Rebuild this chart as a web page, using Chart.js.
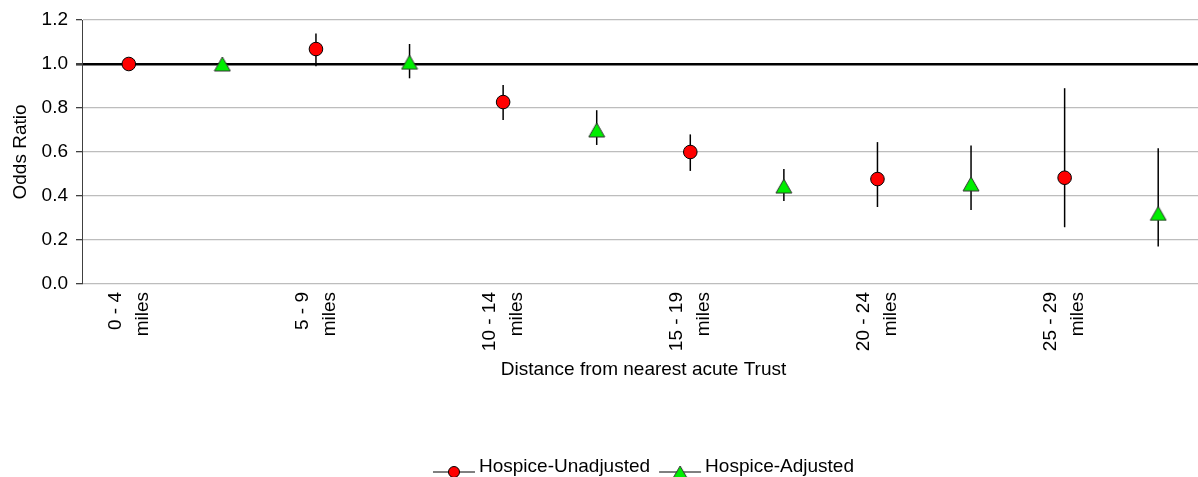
<!DOCTYPE html>
<html>
<head>
<meta charset="utf-8">
<title>Odds Ratio by distance from nearest acute Trust</title>
<script src="https://cdn.jsdelivr.net/npm/chart.js@4/dist/chart.umd.min.js"></script>
<style>
  html, body { margin: 0; padding: 0; background: #fff; overflow: hidden; }
  #wrap { position: relative; width: 1215px; height: 477px; }
</style>
</head>
<body>
<div id="wrap"><canvas id="chart"></canvas></div>
<script>
// Distance bands: each band has an unadjusted slot followed by an adjusted slot
const categories = [
  ['0 - 4', 'miles'], '', ['5 - 9', 'miles'], '', ['10 - 14', 'miles'], '',
  ['15 - 19', 'miles'], '', ['20 - 24', 'miles'], '', ['25 - 29', 'miles'], ''
];

// Hospice-Unadjusted odds ratios with 95% confidence limits
const unadjusted     = [1.00, null, 1.068, null, 0.827, null, 0.600, null, 0.477, null, 0.483, null];
const unadjustedLow  = [null, null, 0.990, null, 0.745, null, 0.514, null, 0.350, null, 0.258, null];
const unadjustedHigh = [null, null, 1.139, null, 0.905, null, 0.680, null, 0.645, null, 0.890, null];

// Hospice-Adjusted odds ratios with 95% confidence limits
const adjusted     = [null, 1.00, null, 1.008, null, 0.700, null, 0.445, null, 0.455, null, 0.321];
const adjustedLow  = [null, null, null, 0.935, null, 0.632, null, 0.377, null, 0.336, null, 0.170];
const adjustedHigh = [null, null, null, 1.091, null, 0.790, null, 0.523, null, 0.629, null, 0.617];

const yMin = 0, yMax = 1.2, yStep = 0.2;
const referenceLine = 1.0;

const FONT = 'Liberation Sans, Arial, sans-serif';
const FONT_SIZE = 19;

// Triangle marker as an image so its bounding box is centred on the value
function triangleMarker(w, h, fill, stroke) {
  const c = document.createElement('canvas');
  c.width = w + 2;
  c.height = h + 2;
  const g = c.getContext('2d');
  g.beginPath();
  g.moveTo(1 + w / 2, 1);
  g.lineTo(1 + w, 1 + h);
  g.lineTo(1, 1 + h);
  g.closePath();
  g.fillStyle = fill;
  g.fill();
  g.strokeStyle = stroke;
  g.lineWidth = 1;
  g.stroke();
  return c;
}
const greenTriangle = triangleMarker(16, 14, '#00ee00', '#333333');
const greenTriangleSmall = triangleMarker(14, 12, '#00ee00', '#333333');

// Vertical confidence-interval whiskers, drawn beneath the markers
const errorBars = {
  id: 'errorBars',
  beforeDatasetsDraw(chart) {
    const { ctx, scales: { x, y } } = chart;
    const ranges = [[unadjustedLow, unadjustedHigh], [adjustedLow, adjustedHigh]];
    ctx.save();
    ctx.strokeStyle = '#000';
    ctx.lineWidth = 1.5;
    ranges.forEach(([lo, hi]) => {
      lo.forEach((l, i) => {
        const h = hi[i];
        if (l == null || h == null) return;
        const px = x.getPixelForValue(i);
        ctx.beginPath();
        ctx.moveTo(px, y.getPixelForValue(l));
        ctx.lineTo(px, y.getPixelForValue(h));
        ctx.stroke();
      });
    });
    ctx.restore();
  }
};

// Legend entries drawn as line + marker samples, centred under the plot
const lineLegend = {
  id: 'lineLegend',
  afterDraw(chart) {
    const { ctx, chartArea } = chart;
    const sample = 42, gapText = 4, gapItem = 9;
    const yLine = 472, yText = 467;
    ctx.save();
    ctx.font = FONT_SIZE + 'px ' + FONT;
    const items = chart.data.datasets.map(ds => ({ ds, w: ctx.measureText(ds.label).width }));
    const total = items.reduce((s, it) => s + sample + gapText + it.w, 0) + gapItem * (items.length - 1);
    let xPos = (chartArea.left + chartArea.right) / 2 - total / 2;
    items.forEach(({ ds, w }) => {
      ctx.strokeStyle = '#000';
      ctx.lineWidth = 1;
      ctx.beginPath();
      ctx.moveTo(xPos, yLine);
      ctx.lineTo(xPos + sample, yLine);
      ctx.stroke();
      const cx = xPos + sample / 2;
      if (ds.pointStyle instanceof HTMLCanvasElement) {
        const img = greenTriangleSmall;
        ctx.drawImage(img, cx - img.width / 2, yLine - img.height / 2);
      } else {
        ctx.fillStyle = ds.pointBackgroundColor;
        ctx.strokeStyle = ds.pointBorderColor;
        ctx.lineWidth = 1;
        ctx.beginPath();
        ctx.arc(cx, yLine, 5.5, 0, Math.PI * 2);
        ctx.fill();
        ctx.stroke();
      }
      ctx.fillStyle = '#000';
      ctx.textAlign = 'left';
      ctx.textBaseline = 'middle';
      ctx.fillText(ds.label, xPos + sample + gapText, yText);
      xPos += sample + gapText + w + gapItem;
    });
    ctx.restore();
  }
};

const isRef = v => Math.abs(v - referenceLine) < 1e-9;

new Chart(document.getElementById('chart'), {
  type: 'line',
  data: {
    labels: categories,
    datasets: [
      {
        label: 'Hospice-Unadjusted',
        data: unadjusted,
        showLine: false,
        pointStyle: 'circle',
        pointRadius: 6.8,
        pointHoverRadius: 6.8,
        pointBackgroundColor: '#ff0000',
        pointBorderColor: '#000000',
        pointBorderWidth: 1
      },
      {
        label: 'Hospice-Adjusted',
        data: adjusted,
        showLine: false,
        pointStyle: greenTriangle,
        pointRadius: 9,
        pointHoverRadius: 9,
        pointBackgroundColor: '#00ee00',
        pointBorderColor: '#333333',
        pointBorderWidth: 1
      }
    ]
  },
  options: {
    responsive: true,
    maintainAspectRatio: false,
    animation: false,
    events: [],
    layout: { padding: { top: 20, right: 0, bottom: 93, left: 0 } },
    plugins: {
      legend: { display: false },
      tooltip: { enabled: false }
    },
    scales: {
      x: {
        type: 'category',
        offset: true,
        grid: { display: false, drawTicks: false },
        border: { display: false },
        ticks: {
          autoSkip: false,
          minRotation: 90,
          maxRotation: 90,
          padding: 8,
          labelOffset: -13.5,
          color: '#000',
          font: { family: FONT, size: FONT_SIZE, lineHeight: 1.42 }
        },
        title: {
          display: true,
          text: 'Distance from nearest acute Trust',
          color: '#000',
          font: { family: FONT, size: FONT_SIZE },
          padding: { top: 3, bottom: 3 }
        },
        afterFit(scale) { scale.height = 100; }
      },
      y: {
        min: yMin,
        max: yMax,
        ticks: {
          stepSize: yStep,
          padding: 8,
          color: '#000',
          font: { family: FONT, size: FONT_SIZE },
          callback: v => Number(v).toFixed(1)
        },
        grid: {
          color: c => isRef(c.tick.value) ? '#000000' : '#bdbdbd',
          lineWidth: c => isRef(c.tick.value) ? 2.6 : 1.3,
          tickColor: '#404040',
          tickLength: 6
        },
        border: { display: true, color: '#404040', width: 1 },
        title: {
          display: true,
          text: 'Odds Ratio',
          color: '#000',
          font: { family: FONT, size: FONT_SIZE },
          padding: { top: 9.5, bottom: 0 }
        },
        afterFit(scale) { scale.width = 82; }
      }
    }
  },
  plugins: [errorBars, lineLegend]
});
</script>
</body>
</html>
